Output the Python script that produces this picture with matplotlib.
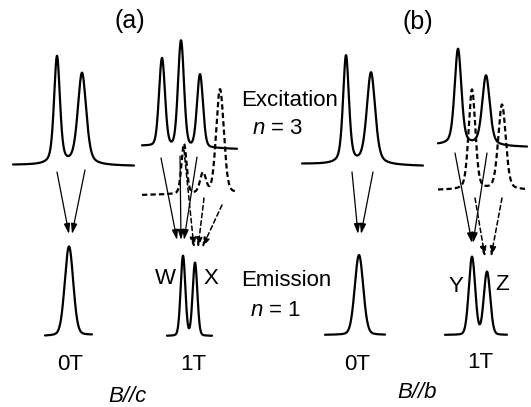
"""Excitation and emission spectra of the n = 3 and n = 1 states at 0 T and 1 T."""

import numpy as np
import matplotlib.pyplot as plt

plt.rcParams["font.family"] = ["Liberation Sans", "DejaVu Sans"]
plt.rcParams["mathtext.fontset"] = "custom"
plt.rcParams["mathtext.it"] = "Liberation Sans:italic"
plt.rcParams["mathtext.rm"] = "Liberation Sans"

# Each trace: x span, baseline at both ends, peak centres / heights / FWHM, Lorentzian share.
# Units are drawing units on a 531 x 407 canvas with y growing downward.
A0_EXC_SPAN = [13, 134]
A0_EXC_BASE = [165, 166]
A0_EXC_CENTRES = [57, 82]
A0_EXC_HEIGHTS = [108, 92]
A0_EXC_WIDTHS = [7, 10]

A0_EM_SPAN = [45, 92]
A0_EM_BASE = [336, 335]
A0_EM_CENTRES = [69]
A0_EM_HEIGHTS = [89]
A0_EM_WIDTHS = [10]

A1_EXC_SPAN = [142, 237]
A1_EXC_BASE = [146, 149]
A1_EXC_CENTRES = [162, 181, 200]
A1_EXC_HEIGHTS = [88, 106, 73]
A1_EXC_WIDTHS = [7, 7, 7]

A1_DASH_SPAN = [142, 236]
A1_DASH_BASE = [195, 193]
A1_DASH_CENTRES = [184, 203, 220]
A1_DASH_HEIGHTS = [50, 20, 104]
A1_DASH_WIDTHS = [6, 7, 9]

A1_EM_SPAN = [167, 212]
A1_EM_BASE = [336, 336]
A1_EM_CENTRES = [183, 195]
A1_EM_HEIGHTS = [80, 73]
A1_EM_WIDTHS = [5.5, 5.5]

B0_EXC_SPAN = [302, 423]
B0_EXC_BASE = [164, 166]
B0_EXC_CENTRES = [346, 371]
B0_EXC_HEIGHTS = [108, 92]
B0_EXC_WIDTHS = [7, 10]

B0_EM_SPAN = [325, 385]
B0_EM_BASE = [335, 335]
B0_EM_CENTRES = [359]
B0_EM_HEIGHTS = [80]
B0_EM_WIDTHS = [10]

B1_EXC_SPAN = [438, 527]
B1_EXC_BASE = [145, 147]
B1_EXC_CENTRES = [458, 486]
B1_EXC_HEIGHTS = [96, 70]
B1_EXC_WIDTHS = [8, 9]

B1_DASH_SPAN = [438, 527]
B1_DASH_BASE = [190, 190]
B1_DASH_CENTRES = [472, 502]
B1_DASH_HEIGHTS = [100, 85]
B1_DASH_WIDTHS = [8, 9]

B1_EM_SPAN = [445, 507]
B1_EM_BASE = [335, 335]
B1_EM_CENTRES = [472, 487]
B1_EM_HEIGHTS = [78, 63]
B1_EM_WIDTHS = [7.5, 7.5]

# Transition arrows: start x, start y, end x, end y
SOLID_ARROWS = [
    (57, 172, 69, 234), (85, 170, 72, 234),
    (161, 158, 177, 240), (180, 156, 181, 240), (197, 157, 184, 240),
    (352, 172, 358, 234), (373, 172, 361, 234),
    (455, 153, 472, 243), (487, 153, 473, 243),
]
DASHED_ARROWS = [
    (184, 150, 194, 248), (204, 198, 198, 248), (222, 205, 202, 248),
    (475, 198, 485, 257), (502, 198, 491, 257),
]


def trace(span, base, centres, heights, widths, eta):
    """Pseudo-Voigt peaks hung below a sloping baseline."""
    x = np.linspace(span[0], span[1], 800)
    y = np.interp(x, span, base)
    for c, h, w in zip(centres, heights, widths):
        d2 = 4 * (x - c) ** 2 / w ** 2
        y = y - h * ((1 - eta) * np.exp(-np.log(2) * d2) + eta / (1 + d2))
    return x, y


fig = plt.figure(figsize=(5.31, 4.07), dpi=100)
ax = fig.add_axes([0, 0, 1, 1])
ax.set_xlim(0, 531)
ax.set_ylim(407, 0)
ax.axis("off")

solid = dict(color="black", lw=1.6, solid_capstyle="round")
dashed = dict(color="black", lw=1.6, linestyle=(0, (2.4, 1.4)))

ax.plot(*trace(A0_EXC_SPAN, A0_EXC_BASE, A0_EXC_CENTRES, A0_EXC_HEIGHTS, A0_EXC_WIDTHS, 0.45), **solid)
ax.plot(*trace(A0_EM_SPAN, A0_EM_BASE, A0_EM_CENTRES, A0_EM_HEIGHTS, A0_EM_WIDTHS, 0.15), **solid)
ax.plot(*trace(A1_EXC_SPAN, A1_EXC_BASE, A1_EXC_CENTRES, A1_EXC_HEIGHTS, A1_EXC_WIDTHS, 0.18), **solid)
ax.plot(*trace(A1_DASH_SPAN, A1_DASH_BASE, A1_DASH_CENTRES, A1_DASH_HEIGHTS, A1_DASH_WIDTHS, 0.2), **dashed)
ax.plot(*trace(A1_EM_SPAN, A1_EM_BASE, A1_EM_CENTRES, A1_EM_HEIGHTS, A1_EM_WIDTHS, 0.1), **solid)
ax.plot(*trace(B0_EXC_SPAN, B0_EXC_BASE, B0_EXC_CENTRES, B0_EXC_HEIGHTS, B0_EXC_WIDTHS, 0.45), **solid)
ax.plot(*trace(B0_EM_SPAN, B0_EM_BASE, B0_EM_CENTRES, B0_EM_HEIGHTS, B0_EM_WIDTHS, 0.15), **solid)
ax.plot(*trace(B1_EXC_SPAN, B1_EXC_BASE, B1_EXC_CENTRES, B1_EXC_HEIGHTS, B1_EXC_WIDTHS, 0.4), **solid)
ax.plot(*trace(B1_DASH_SPAN, B1_DASH_BASE, B1_DASH_CENTRES, B1_DASH_HEIGHTS, B1_DASH_WIDTHS, 0.3), **dashed)
ax.plot(*trace(B1_EM_SPAN, B1_EM_BASE, B1_EM_CENTRES, B1_EM_HEIGHTS, B1_EM_WIDTHS, 0.1), **solid)

for x0, y0, x1, y1 in SOLID_ARROWS:
    ax.annotate("", xy=(x1, y1), xytext=(x0, y0),
                arrowprops=dict(arrowstyle="-|>,head_length=0.6,head_width=0.18",
                                color="black", lw=0.9, shrinkA=0, shrinkB=0))
for x0, y0, x1, y1 in DASHED_ARROWS:
    ax.annotate("", xy=(x1, y1), xytext=(x0, y0),
                arrowprops=dict(arrowstyle="-|>,head_length=0.6,head_width=0.18",
                                color="black", lw=1.1, linestyle=(0, (3, 2)),
                                shrinkA=0, shrinkB=0))

fs = 16
ax.text(130, 21, "(a)", fontsize=fs + 2, ha="center", va="center")
ax.text(418, 22, "(b)", fontsize=fs + 2, ha="center", va="center")
ax.text(290, 101, "Excitation", fontsize=fs, ha="center", va="center")
ax.text(278, 128, "$n$ = 3", fontsize=fs, ha="center", va="center")
ax.text(286, 280, "Emission", fontsize=fs, ha="center", va="center")
ax.text(276, 310, "$n$ = 1", fontsize=fs, ha="center", va="center")
ax.text(165, 278, "W", fontsize=fs, ha="center", va="center")
ax.text(211, 278, "X", fontsize=fs, ha="center", va="center")
ax.text(456, 286, "Y", fontsize=fs, ha="center", va="center")
ax.text(502, 284, "Z", fontsize=fs, ha="center", va="center")
ax.text(70, 364, "0T", fontsize=fs, ha="center", va="center")
ax.text(193, 365, "1T", fontsize=fs, ha="center", va="center")
ax.text(357, 364, "0T", fontsize=fs, ha="center", va="center")
ax.text(480, 362, "1T", fontsize=fs, ha="center", va="center")
ax.text(127, 396, "B//c", fontsize=fs, style="italic", ha="center", va="center")
ax.text(417, 393, "B//b", fontsize=fs, style="italic", ha="center", va="center")

fig.savefig("out.png", dpi=100)
